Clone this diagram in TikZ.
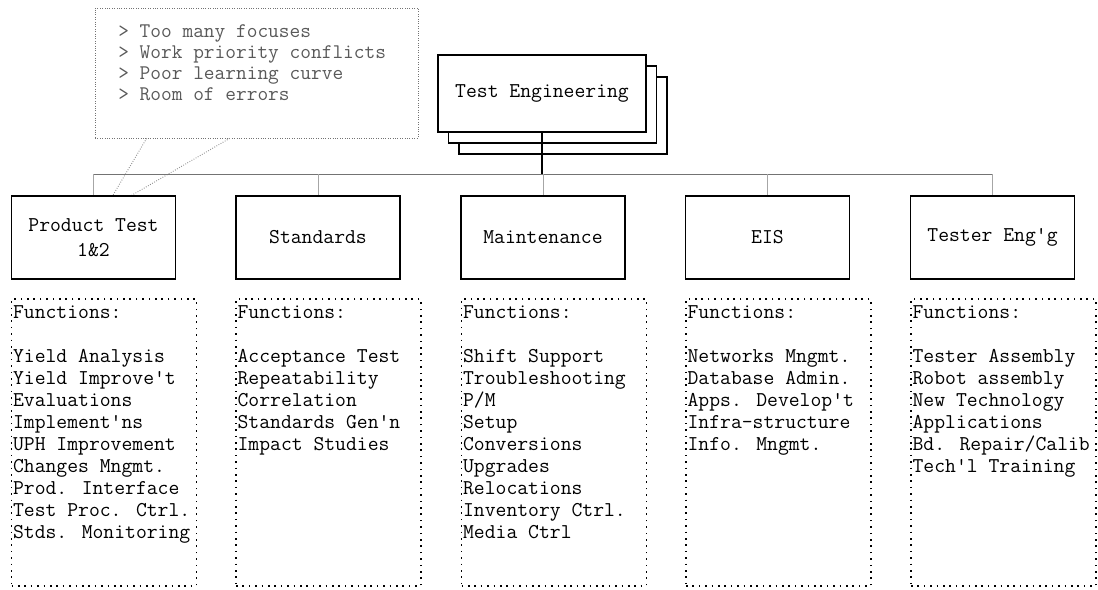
\documentclass[tikz,border=0pt]{standalone}
\usepackage{fontspec}
\usetikzlibrary{calc}
\begin{document}
\begin{tikzpicture}[x=0.75pt,y=-0.75pt,
  hdr/.style={draw, line width=0.9pt, fill=white, minimum width=123pt, minimum height=62.25pt, inner sep=0pt,
    font=\ttfamily\fontsize{15.8}{18.75}\selectfont, align=center},
  tebox/.style={draw, line width=0.9pt, fill=white, minimum width=156pt, minimum height=57.75pt, inner sep=0pt,
    font=\ttfamily\fontsize{15.8}{18.75}\selectfont},
  fnbox/.style={draw, line width=1pt, dash pattern=on 1.2pt off 3.6pt, minimum width=138.75pt, minimum height=215.25pt, inner sep=0pt},
  fntext/.style={anchor=north west, inner sep=0pt, align=left, font=\ttfamily\fontsize{15.8}{16.5}\selectfont},
  callbox/.style={draw=black!55, line width=0.6pt, dash pattern=on 0.6pt off 1.2pt, minimum width=242.25pt, minimum height=97.5pt, inner sep=0pt},
  callline/.style={draw=black!45, line width=0.7pt, dash pattern=on 0.6pt off 1.2pt},
  calltext/.style={anchor=north west, inner sep=0pt, align=left, text=black!65, font=\ttfamily\fontsize{15.6}{15.75}\selectfont},
  bus/.style={draw=black!55, line width=0.7pt},
  drop/.style={draw=black!35, line width=0.7pt}
]
\useasboundingbox (0,0) rectangle (1098,589);

% callout
\node[callbox] (callout) at (256.5,73) {};
\node[calltext] (calltxt) at (118,24) {> Too many focuses\\> Work priority conflicts\\> Poor learning curve\\> Room of errors};
\coordinate (p1) at ($(callout.south west)+(52,0)$);
\coordinate (p2) at ($(callout.south west)+(135,0)$);
\coordinate (tip) at (103,212);
\draw[callline] (p1) -- (tip);
\draw[callline] (p2) -- (tip);

% top box (stacked)
\node[tebox] (te3) at (563,115.5) {};
\node[tebox] (te2) at (552.5,104.5) {};
\node[tebox] (te) at (542,93.5) {Test Engineering};

% child boxes
\node[hdr] (c1) at (93.5,237.5) {Product Test\\1\&2};
\node[hdr] (c2) at (318,237.5) {Standards};
\node[hdr] (c3) at (543,237.5) {Maintenance};
\node[hdr] (c4) at (767.5,237.5) {EIS};
\node[hdr] (c5) at (992.5,237.5) {Tester Eng'g};

% connectors
\coordinate (busc) at (542,174);
\draw[line width=0.8pt] (te.south) -- (busc);
\draw[bus] (c1.north |- busc) -- (c5.north |- busc);
\foreach \i in {1,...,5} {\draw[drop] (c\i.north |- busc) -- (c\i.north);}

% function boxes
\node[fnbox] (f1) at (104,442.5) {};
\node[fnbox] (f2) at (328.5,442.5) {};
\node[fnbox] (f3) at (554,442.5) {};
\node[fnbox] (f4) at (778.5,442.5) {};
\node[fnbox] (f5) at (1003.5,442.5) {};

\node[fntext] (t1) at ($(f1.north west)+(2,7)$) {Functions:\\[16.5pt]Yield Analysis\\Yield Improve't\\Evaluations\\Implement'ns\\UPH Improvement\\Changes Mngmt.\\Prod. Interface\\Test Proc. Ctrl.\\Stds. Monitoring};
\node[fntext] (t2) at ($(f2.north west)+(2,7)$) {Functions:\\[16.5pt]Acceptance Test\\Repeatability\\Correlation\\Standards Gen'n\\Impact Studies};
\node[fntext] (t3) at ($(f3.north west)+(2,7)$) {Functions:\\[16.5pt]Shift Support\\Troubleshooting\\P/M\\Setup\\Conversions\\Upgrades\\Relocations\\Inventory Ctrl.\\Media Ctrl};
\node[fntext] (t4) at ($(f4.north west)+(2,7)$) {Functions:\\[16.5pt]Networks Mngmt.\\Database Admin.\\Apps. Develop't\\Infra-structure\\Info. Mngmt.};
\node[fntext] (t5) at ($(f5.north west)+(2,7)$) {Functions:\\[16.5pt]Tester Assembly\\Robot assembly\\New Technology\\Applications\\Bd. Repair/Calib\\Tech'l Training};
\end{tikzpicture}
\end{document}
